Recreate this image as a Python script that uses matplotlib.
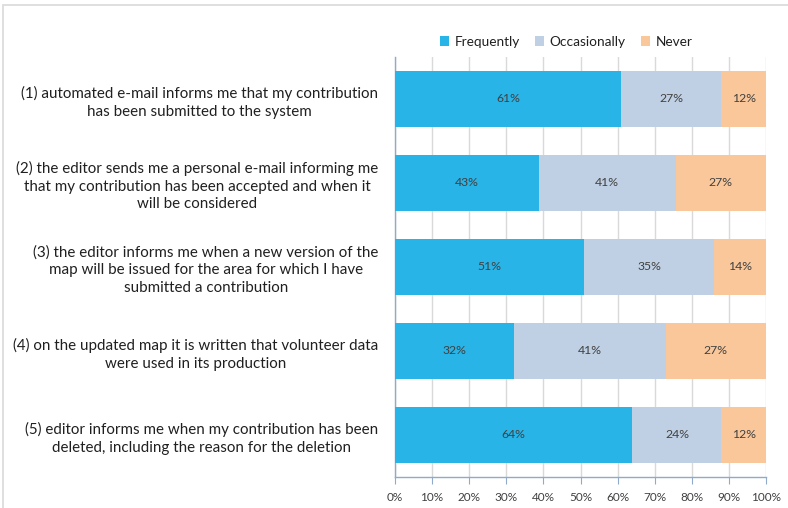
import numpy as np
import matplotlib
matplotlib.use("Agg")
import matplotlib.pyplot as plt
from matplotlib.patches import Rectangle

categories = [
    "(1) automated e-mail informs me that my contribution\nhas been submitted to the system",
    "(2) the editor sends me a personal e-mail informing me\nthat my contribution has been accepted and when it\nwill be considered",
    "(3) the editor informs me when a new version of the\nmap will be issued for the area for which I have\nsubmitted a contribution",
    "(4) on the updated map it is written that volunteer data\nwere used in its production",
    "(5) editor informs me when my contribution has been\ndeleted, including the reason for the deletion",
]
series_names = ["Frequently", "Occasionally", "Never"]
frequently = [61, 43, 51, 32, 64]
occasionally = [27, 41, 35, 41, 24]
never = [12, 27, 14, 27, 12]
x_ticks = [0, 10, 20, 30, 40, 50, 60, 70, 80, 90, 100]

colors = ["#29B4E8", "#C0D0E4", "#F9C79A"]
font = ["Lato", "DejaVu Sans"]
plt.rcParams["font.family"] = font

W, H = 788, 508
fig = plt.figure(figsize=(W / 100, H / 100), dpi=100)

# outer chart frame
fig.patches.append(Rectangle((3 / W, -0.05), 1.2, 1 - 4.5 / H + 0.05,
                             transform=fig.transFigure, fill=False,
                             edgecolor="#D9D9D9", linewidth=1.2))

ax = fig.add_axes([395 / W, 1 - 477 / H, (766 - 395) / W, (477 - 57) / H])

values = np.array([frequently, occasionally, never], dtype=float)
shares = values / values.sum(axis=0) * 100
y = np.arange(len(categories))
left = np.zeros(len(categories))
for name, vals, share, col in zip(series_names, values, shares, colors):
    ax.barh(y, share, left=left, height=0.667, color=col, label=name, zorder=3)
    for yi, l, s, v in zip(y, left, share, vals):
        ax.text(l + s / 2, yi, f"{v:.0f}%", ha="center", va="center",
                fontsize=8.8, color="#404040", zorder=4)
    left += share

ax.set_xlim(0, 100)
ax.set_ylim(len(categories) - 0.5, -0.5)
ax.set_xticks(x_ticks)
ax.set_xticklabels([f"{t}%" for t in x_ticks], fontsize=8.5, color="#404040")
ax.set_yticks(y)
ax.set_yticklabels(categories, fontsize=10.9, color="#202020",
                   multialignment="center", linespacing=1.32)
ax.tick_params(axis="y", length=0, pad=12)
ax.tick_params(axis="x", length=5, direction="out", color="#8FAACB", pad=6)
ax.grid(axis="x", color="#D9D9D9", linewidth=1, zorder=0)
for side in ["top", "right"]:
    ax.spines[side].set_visible(False)
for side in ["left", "bottom"]:
    ax.spines[side].set_color("#8FAACB")
    ax.spines[side].set_linewidth(1)

ax.legend(loc="center", bbox_to_anchor=(566 / W, 1 - 42 / H),
          bbox_transform=fig.transFigure, ncol=3, frameon=False,
          fontsize=9.8, handlelength=0.7, handleheight=0.7,
          handletextpad=0.4, columnspacing=1.1,
          labelcolor="#202020")

fig.savefig("out.png", dpi=100)
